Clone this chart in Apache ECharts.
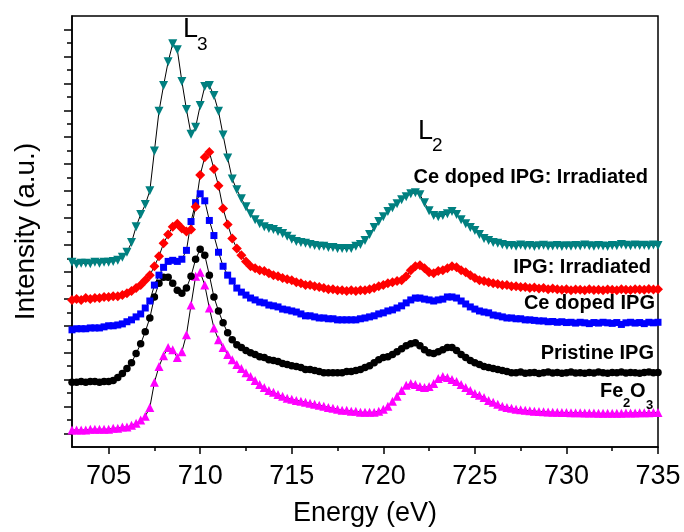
<!DOCTYPE html>
<html>
<head>
<meta charset="utf-8">
<script src="https://cdn.jsdelivr.net/npm/echarts@6/dist/echarts.min.js"></script>
<style>
  html, body { margin: 0; padding: 0; background: #fff; }
  #chart { width: 684px; height: 532px; }
</style>
</head>
<body>
<div id="chart"></div>
<script>
// energy grid, 0.25 eV steps from 703 to 735
var energy = [];
for (var i = 0; i <= 128; i++) energy.push(703 + i * 0.25);

// intensities (a.u., stacked offsets included), 4 points per eV
var ceIrradiated = [
  6.86, 6.78, 6.82, 6.82,  6.80, 6.86, 6.82, 6.86,  6.86, 6.89, 6.93, 7.04,
  7.23, 7.59, 8.18, 8.63,  9.00, 9.51, 10.99, 12.46,  13.42, 14.30, 14.97, 14.75,
  13.57, 12.53, 11.61, 11.87,  12.68, 13.38, 13.42, 13.05,  12.46, 11.58, 10.73, 9.95,
  9.55, 9.22, 8.92, 8.66,  8.44, 8.29, 8.18, 8.11,  8.07, 8.00, 7.93, 7.82,
  7.71, 7.63, 7.59, 7.56,  7.52, 7.48, 7.45, 7.45,  7.41, 7.41, 7.37, 7.37,
  7.37, 7.37, 7.45, 7.52,  7.67, 7.89, 8.15, 8.37,  8.55, 8.74, 8.88, 9.03,
  9.18, 9.29, 9.40, 9.44,  9.36, 9.07, 8.77, 8.59,  8.55, 8.59, 8.66, 8.74,
  8.63, 8.44, 8.29, 8.15,  8.04, 7.89, 7.74, 7.67,  7.59, 7.56, 7.52, 7.48,
  7.48, 7.45, 7.50, 7.46,  7.48, 7.44, 7.47, 7.49,  7.45, 7.46, 7.48, 7.44,
  7.47, 7.45, 7.48, 7.46,  7.50, 7.47, 7.45, 7.48,  7.46, 7.44, 7.48, 7.47,
  7.52, 7.49, 7.47, 7.50,  7.48, 7.49, 7.47, 7.50,  7.48
];
var ipgIrradiated = [
  5.46, 5.49, 5.46, 5.53,  5.49, 5.53, 5.53, 5.57,  5.57, 5.60, 5.60, 5.64,
  5.71, 5.79, 5.90, 6.01,  6.19, 6.38, 6.71, 7.08,  7.56, 7.89, 8.18, 8.29,
  8.11, 8.00, 8.07, 8.92,  10.10, 10.76, 10.95, 10.32,  9.70, 8.85, 8.26, 7.74,
  7.37, 7.12, 6.89, 6.71,  6.64, 6.56, 6.53, 6.45,  6.38, 6.34, 6.27, 6.23,
  6.19, 6.12, 6.08, 6.01,  6.01, 5.97, 5.94, 5.90,  5.86, 5.86, 5.82, 5.82,
  5.79, 5.82, 5.79, 5.82,  5.82, 5.86, 5.90, 5.97,  6.01, 6.08, 6.12, 6.16,
  6.19, 6.34, 6.56, 6.71,  6.75, 6.64, 6.49, 6.45,  6.53, 6.56, 6.64, 6.71,
  6.67, 6.56, 6.49, 6.38,  6.27, 6.19, 6.16, 6.12,  6.08, 6.05, 6.01, 6.01,
  5.97, 5.97, 5.94, 5.94,  5.90, 5.92, 5.88, 5.90,  5.86, 5.88, 5.86, 5.84,
  5.86, 5.82, 5.85, 5.84,  5.82, 5.86, 5.83, 5.84,  5.82, 5.85, 5.84, 5.82,
  5.86, 5.84, 5.83, 5.86,  5.85, 5.84, 5.87, 5.85,  5.86
];
var ceDoped = [
  4.35, 4.39, 4.39, 4.39,  4.42, 4.42, 4.42, 4.46,  4.50, 4.50, 4.53, 4.57,
  4.65, 4.72, 4.83, 4.94,  5.16, 5.42, 6.01, 6.38,  6.67, 6.89, 6.93, 6.89,
  6.97, 7.30, 8.37, 9.07,  9.40, 9.14, 8.41, 7.85,  7.23, 6.71, 6.38, 6.16,
  5.90, 5.75, 5.64, 5.53,  5.46, 5.38, 5.35, 5.27,  5.24, 5.20, 5.12, 5.09,
  5.05, 5.01, 4.94, 4.87,  4.87, 4.83, 4.79, 4.79,  4.76, 4.76, 4.72, 4.72,
  4.72, 4.72, 4.72, 4.76,  4.79, 4.83, 4.87, 4.94,  4.98, 5.05, 5.09, 5.16,
  5.24, 5.35, 5.46, 5.53,  5.53, 5.49, 5.46, 5.42,  5.46, 5.49, 5.57, 5.57,
  5.53, 5.42, 5.31, 5.20,  5.12, 5.05, 5.01, 4.98,  4.90, 4.87, 4.83, 4.79,
  4.79, 4.76, 4.76, 4.72,  4.72, 4.70, 4.68, 4.68,  4.65, 4.66, 4.63, 4.65,
  4.62, 4.63, 4.60, 4.63,  4.61, 4.58, 4.62, 4.60,  4.63, 4.61, 4.59, 4.62,
  4.55, 4.61, 4.63, 4.60,  4.62, 4.58, 4.63, 4.61,  4.63
];
var pristine = [
  2.40, 2.40, 2.43, 2.40,  2.43, 2.43, 2.40, 2.43,  2.43, 2.47, 2.58, 2.73,
  2.91, 3.13, 3.47, 3.83,  4.28, 4.79, 5.57, 6.08,  6.30, 6.30, 6.08, 5.82,
  5.71, 5.90, 6.34, 6.97,  7.34, 7.12, 6.38, 5.57,  5.05, 4.61, 4.24, 3.98,
  3.80, 3.69, 3.58, 3.50,  3.43, 3.35, 3.32, 3.24,  3.21, 3.17, 3.10, 3.06,
  3.02, 2.99, 2.95, 2.88,  2.88, 2.84, 2.80, 2.76,  2.76, 2.76, 2.76, 2.76,
  2.80, 2.80, 2.84, 2.88,  2.95, 3.02, 3.13, 3.24,  3.32, 3.35, 3.43, 3.54,
  3.65, 3.76, 3.83, 3.87,  3.76, 3.61, 3.50, 3.47,  3.54, 3.61, 3.69, 3.69,
  3.58, 3.43, 3.32, 3.21,  3.13, 3.06, 2.99, 2.95,  2.91, 2.88, 2.84, 2.80,
  2.76, 2.76, 2.78, 2.74,  2.76, 2.77, 2.73, 2.76,  2.78, 2.75, 2.77, 2.74,
  2.76, 2.78, 2.75, 2.76,  2.74, 2.77, 2.75, 2.78,  2.76, 2.74, 2.77, 2.76,
  2.78, 2.75, 2.77, 2.76,  2.74, 2.77, 2.78, 2.76,  2.77
];
var fe2o3 = [
  0.63, 0.63, 0.63, 0.63,  0.66, 0.66, 0.66, 0.66,  0.66, 0.70, 0.70, 0.74,
  0.74, 0.81, 0.88, 1.00,  1.14, 1.47, 2.40, 2.99,  3.39, 3.69, 3.61, 3.32,
  3.54, 4.17, 5.27, 6.34,  6.49, 6.01, 5.16, 4.42,  3.98, 3.69, 3.43, 3.24,
  3.06, 2.91, 2.76, 2.62,  2.47, 2.32, 2.21, 2.10,  2.03, 1.95, 1.88, 1.81,
  1.77, 1.73, 1.70, 1.66,  1.62, 1.59, 1.55, 1.51,  1.47, 1.44, 1.40, 1.36,
  1.36, 1.33, 1.33, 1.29,  1.29, 1.29, 1.29, 1.33,  1.40, 1.51, 1.70, 1.88,
  2.10, 2.29, 2.36, 2.32,  2.25, 2.21, 2.25, 2.36,  2.54, 2.62, 2.58, 2.51,
  2.43, 2.32, 2.21, 2.10,  1.99, 1.92, 1.84, 1.73,  1.66, 1.59, 1.51, 1.47,
  1.44, 1.40, 1.38, 1.36,  1.35, 1.33, 1.32, 1.31,  1.30, 1.29, 1.29, 1.28,
  1.28, 1.27, 1.27, 1.27,  1.26, 1.26, 1.26, 1.25,  1.25, 1.25, 1.25, 1.25,
  1.25, 1.26, 1.26, 1.26,  1.27, 1.27, 1.27, 1.28,  1.28
];

var xMajor = [705, 710, 715, 720, 725, 730, 735];
var xMinor = [707.5, 712.5, 717.5, 722.5, 727.5, 732.5];
var yMajor = [0.5, 1.5, 2.5, 3.5, 4.5, 5.5, 6.5, 7.5, 8.5, 9.5, 10.5, 11.5, 12.5, 13.5, 14.5, 15.5];
var yMinor = [1, 2, 3, 4, 5, 6, 7, 8, 9, 10, 11, 12, 13, 14, 15];

var FONT = 'Liberation Sans, Arial, sans-serif';

function pairs(ys) {
  return ys.map(function (v, k) { return [energy[k], v]; });
}

function makeSeries(name, ys, color, symbol, size, rotate) {
  return {
    name: name,
    type: 'line',
    data: pairs(ys),
    symbol: symbol,
    symbolSize: size,
    symbolRotate: rotate || 0,
    showAllSymbol: true,
    lineStyle: { color: '#000', width: 1 },
    itemStyle: { color: color },
    emphasis: { disabled: true }
  };
}

function txt(text, x, y, size, weight, align) {
  return {
    type: 'text',
    x: x,
    y: y,
    z: 100,
    style: {
      text: text,
      fontFamily: FONT,
      fontSize: size,
      fontWeight: weight || 'normal',
      fill: '#000',
      textAlign: align || 'left',
      textVerticalAlign: 'middle'
    }
  };
}

var tickLine = { color: '#000', width: 1.5 };

var chart = echarts.init(document.getElementById('chart'));
chart.setOption({
  animation: false,
  backgroundColor: '#fff',
  grid: { left: 72, top: 16, right: 26, bottom: 82, show: true, borderColor: '#000', borderWidth: 1.5 },
  xAxis: [
    {
      type: 'value', min: 703, max: 735,
      name: 'Energy (eV)', nameLocation: 'middle', nameGap: 53,
      nameTextStyle: { fontSize: 27, color: '#000', fontFamily: FONT },
      axisLine: { show: true, lineStyle: tickLine },
      axisTick: { show: true, length: 7, customValues: xMajor, lineStyle: tickLine },
      axisLabel: { customValues: xMajor, fontSize: 27, color: '#000', fontFamily: FONT, margin: 16 },
      splitLine: { show: false }
    },
    {
      type: 'value', min: 703, max: 735, position: 'bottom',
      axisLine: { show: false },
      axisTick: { show: true, length: 4, customValues: xMinor, lineStyle: tickLine },
      axisLabel: { show: false },
      splitLine: { show: false }
    }
  ],
  yAxis: [
    {
      type: 'value', min: 0, max: 16,
      name: 'Intensity (a.u.)', nameLocation: 'middle', nameGap: 32,
      nameTextStyle: { fontSize: 28, color: '#000', fontFamily: FONT },
      axisLine: { show: true, lineStyle: tickLine },
      axisTick: { show: true, length: 8, customValues: yMajor, lineStyle: tickLine },
      axisLabel: { show: false, customValues: yMajor },
      splitLine: { show: false }
    },
    {
      type: 'value', min: 0, max: 16, position: 'left',
      axisLine: { show: false },
      axisTick: { show: true, length: 5, customValues: yMinor, lineStyle: tickLine },
      axisLabel: { show: false },
      splitLine: { show: false }
    }
  ],
  series: [
    makeSeries('Fe2O3', fe2o3, '#ff00ff', 'triangle', 9),
    makeSeries('Pristine IPG', pristine, '#000000', 'circle', 7.5),
    makeSeries('Ce doped IPG', ceDoped, '#0000ff', 'rect', 7),
    makeSeries('IPG: Irradiated', ipgIrradiated, '#ff0000', 'diamond', 10),
    makeSeries('Ce doped IPG: Irradiated', ceIrradiated, '#008080', 'triangle', 9, 180)
  ],
  graphic: [
    txt('L', 183, 30, 27),
    txt('3', 197, 45, 19),
    txt('L', 418, 132, 27),
    txt('2', 432, 146, 19),
    txt('Ce doped IPG: Irradiated', 648, 177, 20, 'bold', 'right'),
    txt('IPG: Irradiated', 651, 267, 20, 'bold', 'right'),
    txt('Ce doped IPG', 655, 303, 20, 'bold', 'right'),
    txt('Pristine IPG', 654, 353, 20, 'bold', 'right'),
    txt('Fe', 600, 391, 20, 'bold'),
    txt('2', 623, 403, 13, 'bold'),
    txt('O', 630, 391, 20, 'bold'),
    txt('3', 646, 405, 13, 'bold')
  ]
});
</script>
</body>
</html>
